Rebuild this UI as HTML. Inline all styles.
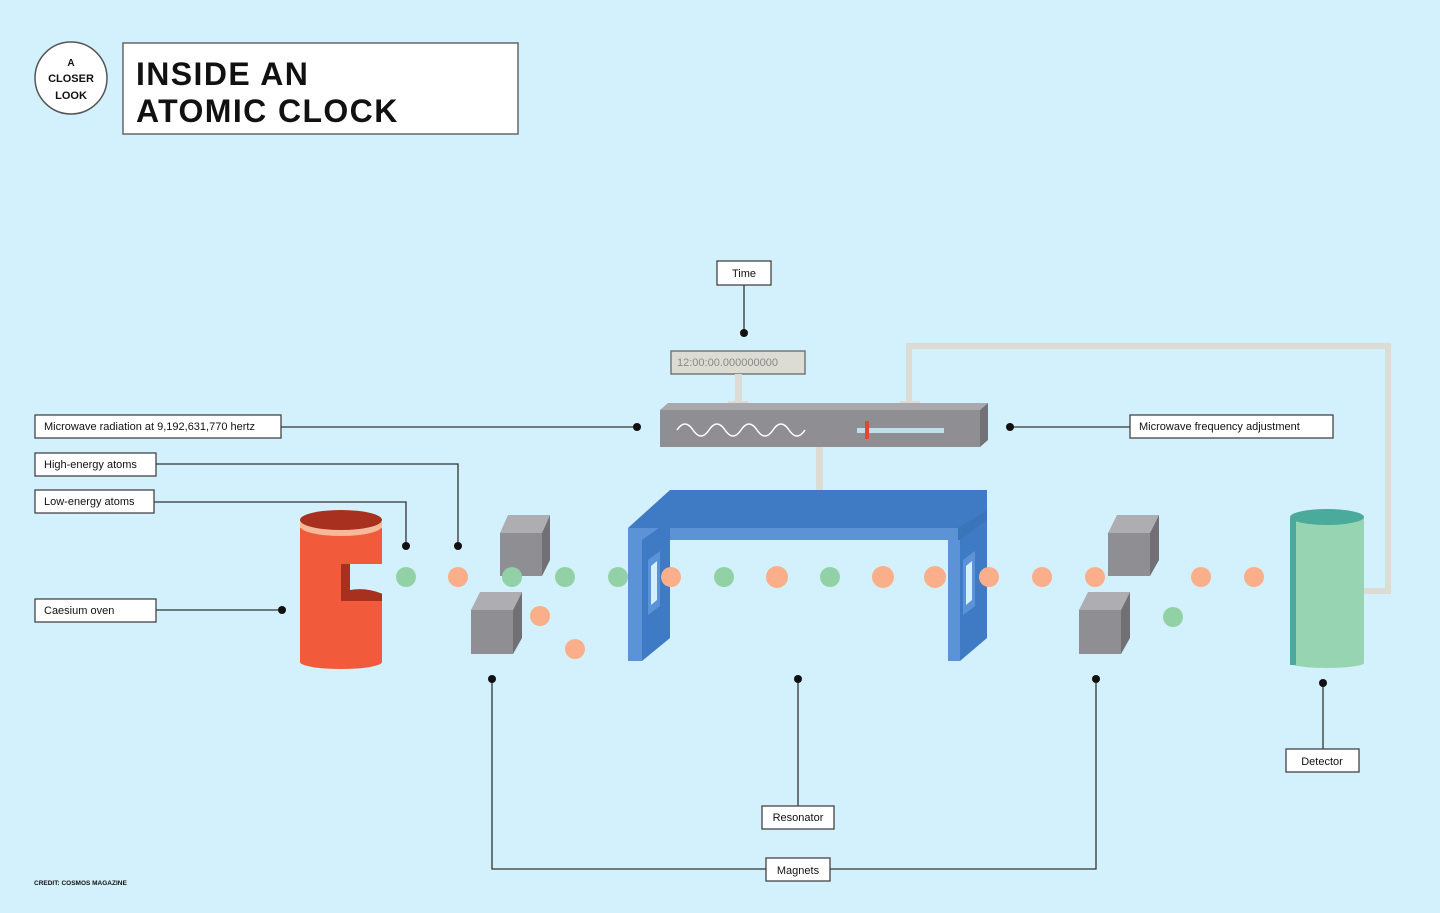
<!DOCTYPE html>
<html><head><meta charset="utf-8"><style>
html,body{margin:0;padding:0;background:#d3f1fc;}
svg{display:block;}
text{font-family:"Liberation Sans",sans-serif;fill:#111;}
</style></head><body>
<svg width="1440" height="913" viewBox="0 0 1440 913" xmlns="http://www.w3.org/2000/svg">
<rect width="1440" height="913" fill="#d3f1fc"/>
<!-- header -->
<circle cx="71" cy="78" r="36" fill="#fff" stroke="#555" stroke-width="1.5"/>
<text x="71" y="66" font-size="10" font-weight="bold" text-anchor="middle">A</text>
<text x="71" y="82" font-size="11" font-weight="bold" text-anchor="middle">CLOSER</text>
<text x="71" y="99" font-size="11" font-weight="bold" text-anchor="middle">LOOK</text>
<rect x="123" y="43" width="395" height="91" fill="#fff" stroke="#666" stroke-width="1.5"/>
<text x="136" y="85" font-size="32" font-weight="bold" letter-spacing="1.4">INSIDE AN</text>
<text x="136" y="122" font-size="32" font-weight="bold" letter-spacing="1.4">ATOMIC CLOCK</text>
<text x="34" y="885" font-size="6.5" font-weight="bold">CREDIT: COSMOS MAGAZINE</text>

<!-- connector lines -->
<g stroke="#333" stroke-width="1.3" fill="none">
<line x1="744" y1="285" x2="744" y2="333"/>
<line x1="281" y1="427" x2="637" y2="427"/>
<line x1="1010" y1="427" x2="1130" y2="427"/>
<polyline points="156,464 458,464 458,546"/>
<polyline points="154,502 406,502 406,546"/>
<line x1="156" y1="610" x2="282" y2="610"/>
<polyline points="492,679 492,869 766,869"/>
<polyline points="1096,679 1096,869 830,869"/>
<line x1="798" y1="679" x2="798" y2="806"/>
<line x1="1323" y1="683" x2="1323" y2="749"/>
</g>
<g fill="#111">
<circle cx="744" cy="333" r="4"/><circle cx="637" cy="427" r="4"/><circle cx="1010" cy="427" r="4"/>
<circle cx="458" cy="546" r="4"/><circle cx="406" cy="546" r="4"/><circle cx="282" cy="610" r="4"/>
<circle cx="492" cy="679" r="4"/><circle cx="1096" cy="679" r="4"/><circle cx="798" cy="679" r="4"/><circle cx="1323" cy="683" r="4"/>
</g>

<!-- feedback pipe -->
<polyline points="909,404 909,346 1388,346 1388,591 1362,591" fill="none" stroke="#dcdcd4" stroke-width="6"/>
<!-- display -->
<rect x="671" y="351" width="134" height="23" fill="#dcdcd4" stroke="#777" stroke-width="1.5"/>
<text x="677" y="366" font-size="11" style="fill:#888">12:00:00.000000000</text>
<rect x="735" y="374" width="7" height="30" fill="#dcdcd4"/>
<rect x="728" y="401" width="20" height="5" fill="#dcdcd4"/>
<rect x="900" y="401" width="20" height="5" fill="#dcdcd4"/>
<!-- microwave box -->
<polygon points="660,410 668,403 988,403 980,410" fill="#a9a8ad"/>
<rect x="660" y="410" width="320" height="37" fill="#8f8e93"/>
<polygon points="980,410 988,403 988,440 980,447" fill="#727176"/>
<path d="M677,430 q8,-12 16,0 t16,0 t16,0 t16,0 t16,0 t16,0 t16,0 t16,0" fill="none" stroke="#fff" stroke-width="1.5"/>
<rect x="857" y="428" width="87" height="5" fill="#bfe0ea"/>
<rect x="865" y="421" width="4" height="18" fill="#e4472d"/>
<rect x="816" y="447" width="7" height="55" fill="#dcdcd4"/>
<rect x="809" y="500" width="20" height="6" fill="#dcdcd4"/>

<!-- oven -->
<rect x="300" y="522" width="82" height="140" fill="#f15a3a"/>
<ellipse cx="341" cy="662" rx="41" ry="7" fill="#f15a3a"/>
<ellipse cx="341" cy="526" rx="41" ry="10" fill="#f8b99a"/>
<rect x="300" y="522" width="82" height="6" fill="#f8b99a"/>
<ellipse cx="341" cy="520" rx="41" ry="10" fill="#a8301f"/>
<rect x="341" y="564" width="41" height="37" fill="#a8301f"/>
<path d="M350,564 L383,564 L383,594 Q366,587 350,590 Z" fill="#d3f1fc"/>

<!-- magnets -->
<g>
<polygon points="500,533 508,515 550,515 542,533" fill="#aeadb2"/><rect x="500" y="533" width="42" height="43" fill="#8f8e93"/><polygon points="542,533 550,515 550,560 542,576" fill="#717075"/>
<polygon points="471,610 480,592 522,592 513,610" fill="#aeadb2"/><rect x="471" y="610" width="42" height="44" fill="#8f8e93"/><polygon points="513,610 522,592 522,638 513,654" fill="#717075"/>
<polygon points="1108,533 1117,515 1159,515 1150,533" fill="#aeadb2"/><rect x="1108" y="533" width="42" height="43" fill="#8f8e93"/><polygon points="1150,533 1159,515 1159,560 1150,576" fill="#717075"/>
<polygon points="1079,610 1088,592 1130,592 1121,610" fill="#aeadb2"/><rect x="1079" y="610" width="42" height="44" fill="#8f8e93"/><polygon points="1121,610 1130,592 1130,638 1121,654" fill="#717075"/>
</g>

<!-- resonator -->
<polygon points="628,528 670,490 987,490 987,528" fill="#3e7bc4"/>
<rect x="628" y="528" width="330" height="12" fill="#5b93d6"/>
<polygon points="958,528 987,510 987,540 958,540" fill="#3a74ba"/>
<rect x="628" y="528" width="14" height="133" fill="#5b93d6"/>
<polygon points="642,540 670,520 670,638 642,661" fill="#3e7bc4"/>
<polygon points="648,560 660,551 660,606 648,615" fill="#5b93d6"/>
<polygon points="651,566 657,561 657,600 651,605" fill="#d3f1fc"/>
<rect x="948" y="540" width="12" height="121" fill="#5b93d6"/>
<polygon points="960,540 987,520 987,638 960,661" fill="#3e7bc4"/>
<polygon points="963,560 975,551 975,606 963,615" fill="#5b93d6"/>
<polygon points="966,566 972,561 972,600 966,605" fill="#d3f1fc"/>

<!-- detector -->
<rect x="1290" y="518" width="74" height="145" fill="#97d5b2"/>
<ellipse cx="1327" cy="663" rx="37" ry="5" fill="#97d5b2"/>
<rect x="1290" y="518" width="6" height="147" fill="#4aab9c"/>
<ellipse cx="1327" cy="517" rx="37" ry="8" fill="#4aab9c"/>

<!-- atoms -->
<g fill="#92d1a6">
<circle cx="406" cy="577" r="10"/><circle cx="512" cy="577" r="10"/><circle cx="565" cy="577" r="10"/><circle cx="618" cy="577" r="10"/>
<circle cx="724" cy="577" r="10"/><circle cx="830" cy="577" r="10"/><circle cx="1173" cy="617" r="10"/>
</g>
<g fill="#fbae8a">
<circle cx="458" cy="577" r="10"/><circle cx="540" cy="616" r="10"/><circle cx="575" cy="649" r="10"/>
<circle cx="671" cy="577" r="10"/><circle cx="777" cy="577" r="11"/><circle cx="883" cy="577" r="11"/><circle cx="935" cy="577" r="11"/>
<circle cx="989" cy="577" r="10"/><circle cx="1042" cy="577" r="10"/><circle cx="1095" cy="577" r="10"/><circle cx="1201" cy="577" r="10"/><circle cx="1254" cy="577" r="10"/>
</g>

<!-- labels -->
<g stroke="#444" stroke-width="1.3" fill="#fff">
<rect x="717" y="261" width="54" height="24"/>
<rect x="35" y="415" width="246" height="23"/>
<rect x="1130" y="415" width="203" height="23"/>
<rect x="35" y="453" width="121" height="23"/>
<rect x="35" y="490" width="119" height="23"/>
<rect x="35" y="599" width="121" height="23"/>
<rect x="762" y="806" width="72" height="23"/>
<rect x="766" y="858" width="64" height="23"/>
<rect x="1286" y="749" width="73" height="23"/>
</g>
<g font-size="11">
<text x="744" y="277" text-anchor="middle">Time</text>
<text x="44" y="430">Microwave radiation at 9,192,631,770 hertz</text>
<text x="1139" y="430">Microwave frequency adjustment</text>
<text x="44" y="468">High-energy atoms</text>
<text x="44" y="505">Low-energy atoms</text>
<text x="44" y="614">Caesium oven</text>
<text x="798" y="821" text-anchor="middle">Resonator</text>
<text x="798" y="874" text-anchor="middle">Magnets</text>
<text x="1322" y="765" text-anchor="middle">Detector</text>
</g>
</svg>
</body></html>
